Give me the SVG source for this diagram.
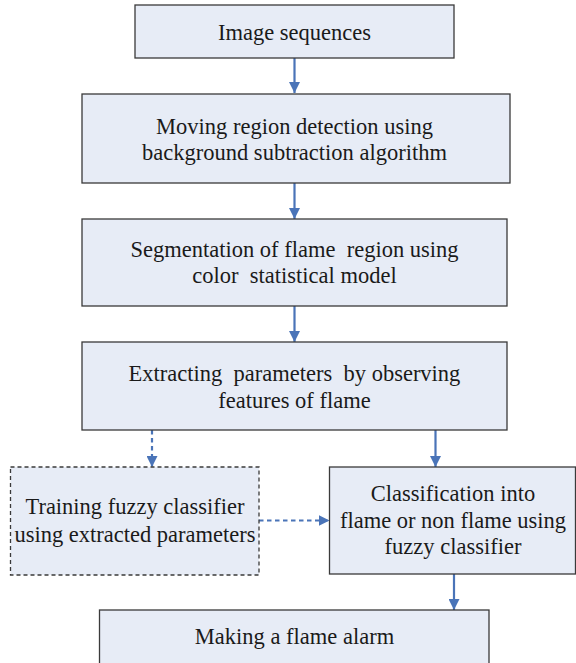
<svg xmlns="http://www.w3.org/2000/svg" width="576" height="663" viewBox="0 0 576 663">
  <style>
    .box { fill: #e7ecf6; stroke: #3a3a3a; stroke-width: 1.3; }
    .dbox { fill: #e7ecf6; stroke: #3a3a3a; stroke-width: 1.3; stroke-dasharray: 4 3; }
    .lbl { font-family: "Liberation Serif", "DejaVu Serif", serif; font-size: 22.5px; fill: #1a1a1a; text-anchor: middle; white-space: pre; }
    .edge { stroke: #4a74b8; stroke-width: 2.2; fill: none; }
    .dedge { stroke: #4a74b8; stroke-width: 2.2; fill: none; stroke-dasharray: 4.5 3.5; }
  </style>
  <defs>
    <marker id="arrow" viewBox="0 0 10 10" refX="10" refY="5" markerWidth="5" markerHeight="5" markerUnits="strokeWidth" orient="auto">
      <path d="M0,0 L10,5 L0,10 Z" fill="#4a74b8"/>
    </marker>
  </defs>

  <g id="connectors">
    <line class="edge" x1="294.5" y1="58" x2="294.5" y2="93" marker-end="url(#arrow)"/>
    <line class="edge" x1="294.5" y1="183" x2="294.5" y2="219" marker-end="url(#arrow)"/>
    <line class="edge" x1="294.5" y1="306" x2="294.5" y2="342" marker-end="url(#arrow)"/>
    <line class="dedge" x1="152" y1="430" x2="152" y2="467" marker-end="url(#arrow)"/>
    <line class="edge" x1="435.5" y1="430" x2="435.5" y2="467" marker-end="url(#arrow)"/>
    <line class="dedge" x1="259" y1="520.5" x2="329.5" y2="520.5" marker-end="url(#arrow)"/>
    <line class="edge" x1="454" y1="574" x2="454" y2="610" marker-end="url(#arrow)"/>
  </g>

  <g id="image-sequences">
    <rect class="box" x="135" y="5" width="319" height="53"/>
    <text class="lbl" x="294.5" y="39.5">Image sequences</text>
  </g>

  <g id="moving-region">
    <rect class="box" x="82" y="94" width="428" height="89"/>
    <text class="lbl" x="294.5" y="133.5">Moving region detection using</text>
    <text class="lbl" x="294.5" y="160">background subtraction algorithm</text>
  </g>

  <g id="segmentation">
    <rect class="box" x="82" y="219" width="425" height="87"/>
    <text class="lbl" x="294.5" y="257">Segmentation of flame  region using</text>
    <text class="lbl" x="294.5" y="283">color  statistical model</text>
  </g>

  <g id="extracting">
    <rect class="box" x="82" y="342" width="425" height="88"/>
    <text class="lbl" x="294.5" y="381">Extracting  parameters  by observing</text>
    <text class="lbl" x="294.5" y="407.5">features of flame</text>
  </g>

  <g id="training">
    <rect class="dbox" x="10.5" y="467" width="248.5" height="108"/>
    <text class="lbl" x="135" y="514">Training fuzzy classifier</text>
    <text class="lbl" x="135" y="541.5">using extracted parameters</text>
  </g>

  <g id="classification">
    <rect class="box" x="329.5" y="467" width="246" height="107"/>
    <text class="lbl" x="453" y="501">Classification into</text>
    <text class="lbl" x="453" y="527.5">flame or non flame using</text>
    <text class="lbl" x="453" y="554">fuzzy classifier</text>
  </g>

  <g id="flame-alarm">
    <rect class="box" x="99.5" y="610" width="389.5" height="60"/>
    <text class="lbl" x="294.5" y="643.5">Making a flame alarm</text>
  </g>
</svg>
